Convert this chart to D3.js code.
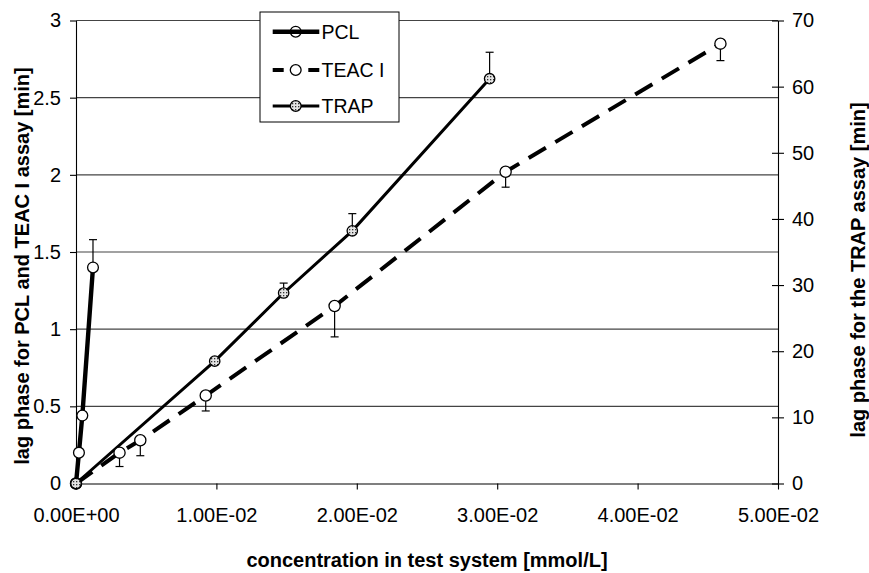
<!DOCTYPE html>
<html>
<head>
<meta charset="utf-8">
<script src="https://cdn.jsdelivr.net/npm/d3@7/dist/d3.min.js"></script>
<style>
	body { margin: 0; background: #fff; }
	svg text { font-family: "Liberation Sans", Arial, sans-serif; }
</style>
</head>
<body>
<div id="chart"></div>
<script>

// Data
//---------

//-- PCL (left axis)
var pclX = [0, 0.00021, 0.00045, 0.00121];
var pclY = [0, 0.20, 0.44, 1.40];
var pclErrUp = [0, 0, 0, 0.18];

//-- TEAC I (left axis)
var teacX = [0, 0.0031, 0.00458, 0.00924, 0.01842, 0.0306, 0.0459];
var teacY = [0, 0.20, 0.28, 0.57, 1.15, 2.02, 2.85];
var teacErrDown = [0, 0.09, 0.10, 0.10, 0.20, 0.10, 0.11];

//-- TRAP (right axis)
var trapX = [0, 0.00988, 0.01479, 0.01968, 0.02946];
var trapY = [0, 18.5, 28.8, 38.2, 61.2];
var trapErrUp = [0, 0, 1.5, 2.6, 4.0];

//-- Ticks / labels
var xTicks = [0, 0.01, 0.02, 0.03, 0.04, 0.05];
var leftTicks = [0, 0.5, 1, 1.5, 2, 2.5, 3];
var rightTicks = [0, 10, 20, 30, 40, 50, 60, 70];
var legendNames = ["PCL", "TEAC I", "TRAP"];

var xTitle = "concentration in test system [mmol/L]";
var leftTitle = "lag phase for PCL and TEAC I assay [min]";
var rightTitle = "lag phase for the TRAP assay [min]";

// Setup
//---------
var width = 869, height = 573;
var plotLeft = 76, plotRight = 778, plotTop = 20.5, plotBottom = 483.5;

var svg = d3.select("#chart").append("svg")
	.attr("width", width)
	.attr("height", height);

var defs = svg.append("defs");
var pat = defs.append("pattern")
	.attr("id", "speckle")
	.attr("patternUnits", "userSpaceOnUse")
	.attr("width", 3)
	.attr("height", 3);
pat.append("rect").attr("width", 3).attr("height", 3).attr("fill", "#e4e4e4");
pat.append("rect").attr("x", 1).attr("y", 1).attr("width", 1.3).attr("height", 1.3).attr("fill", "#333");

var x = d3.scaleLinear().domain([0, 0.05]).range([plotLeft, plotRight]);
var yL = d3.scaleLinear().domain([0, 3]).range([plotBottom, plotTop]);
var yR = d3.scaleLinear().domain([0, 70]).range([plotBottom, plotTop]);

function sciFormat(d) {
	var s = d.toExponential(2).toUpperCase();   // 1.00E-2
	return s.replace(/E([+-])(\d)$/, "E$10$2");
}

// Grid
//---------
svg.append("g").selectAll("line")
	.data(leftTicks.filter(function(d) { return d > 0; }))
	.join("line")
	.attr("x1", plotLeft).attr("x2", plotRight)
	.attr("y1", function(d) { return yL(d); })
	.attr("y2", function(d) { return yL(d); })
	.attr("stroke", "#444")
	.attr("stroke-width", 1.1);

// Axes
//---------
var axisFont = 20;

//-- Bottom
var gx = svg.append("g")
	.attr("transform", "translate(0," + plotBottom + ")")
	.call(d3.axisBottom(x).tickValues(xTicks).tickFormat(sciFormat)
		.tickSize(6).tickSizeOuter(0).tickPadding(18));

//-- Left
var gl = svg.append("g")
	.attr("transform", "translate(" + plotLeft + ",0)")
	.call(d3.axisLeft(yL).tickValues(leftTicks).tickFormat(function(d) { return String(d); })
		.tickSize(6).tickSizeOuter(0).tickPadding(9));

//-- Right (ticks cross the line)
var gr = svg.append("g")
	.attr("transform", "translate(" + plotRight + ",0)")
	.call(d3.axisRight(yR).tickValues(rightTicks)
		.tickSize(6).tickSizeOuter(0).tickPadding(8));
gr.selectAll(".tick line").attr("x1", -6);

[gx, gl, gr].forEach(function(g) {
	g.selectAll("text")
		.attr("font-family", "Liberation Sans, Arial, sans-serif")
		.attr("font-size", axisFont)
		.attr("fill", "#000");
	g.selectAll("line, path").attr("stroke", "#000").attr("stroke-width", 1.1);
});

//-- Titles
svg.append("text")
	.attr("x", (plotLeft + plotRight) / 2)
	.attr("y", 567)
	.attr("text-anchor", "middle")
	.attr("font-size", 20)
	.attr("font-weight", "bold")
	.text(xTitle);

svg.append("text")
	.attr("transform", "translate(29," + ((plotTop + plotBottom) / 2 + 14) + ") rotate(-90)")
	.attr("text-anchor", "middle")
	.attr("font-size", 20)
	.attr("font-weight", "bold")
	.text(leftTitle);

svg.append("text")
	.attr("transform", "translate(865," + ((plotTop + plotBottom) / 2 + 18) + ") rotate(-90)")
	.attr("text-anchor", "middle")
	.attr("font-size", 20)
	.attr("font-weight", "bold")
	.text(rightTitle);

// Series
//---------
function zipPts(xs, ys) {
	return xs.map(function(v, i) { return [v, ys[i]]; });
}

var pclPts = zipPts(pclX, pclY);
var teacPts = zipPts(teacX, teacY);
var trapPts = zipPts(trapX, trapY);

var lineL = d3.line().x(function(d) { return x(d[0]); }).y(function(d) { return yL(d[1]); });
var lineR = d3.line().x(function(d) { return x(d[0]); }).y(function(d) { return yR(d[1]); });

//-- Lines
svg.append("path").datum(teacPts)
	.attr("d", lineL)
	.attr("fill", "none")
	.attr("stroke", "#000")
	.attr("stroke-width", 4)
	.attr("stroke-dasharray", "20,11");

svg.append("path").datum(trapPts)
	.attr("d", lineR)
	.attr("fill", "none")
	.attr("stroke", "#000")
	.attr("stroke-width", 3);

svg.append("path").datum(pclPts)
	.attr("d", lineL)
	.attr("fill", "none")
	.attr("stroke", "#000")
	.attr("stroke-width", 4.4);

//-- Error bars
function errBars(pts, errs, ys, dir) {
	var g = svg.append("g").attr("stroke", "#000").attr("stroke-width", 1.2);
	pts.forEach(function(p, i) {
		if (!errs[i]) return;
		var y1 = ys(p[1]);
		var y2 = ys(p[1] + dir * errs[i]);
		g.append("line").attr("x1", x(p[0])).attr("x2", x(p[0])).attr("y1", y1).attr("y2", y2);
		g.append("line").attr("x1", x(p[0]) - 4).attr("x2", x(p[0]) + 4).attr("y1", y2).attr("y2", y2);
	});
}
errBars(pclPts, pclErrUp, yL, 1);
errBars(teacPts, teacErrDown, yL, -1);
errBars(trapPts, trapErrUp, yR, 1);

//-- Markers
function markers(pts, ys, r, fill) {
	svg.append("g").selectAll("circle")
		.data(pts)
		.join("circle")
		.attr("cx", function(d) { return x(d[0]); })
		.attr("cy", function(d) { return ys(d[1]); })
		.attr("r", r)
		.attr("fill", fill)
		.attr("stroke", "#000")
		.attr("stroke-width", 1.3);
}
markers(teacPts, yL, 5.6, "#fff");
markers(pclPts, yL, 5.4, "#fff");
markers(trapPts, yR, 5.2, "url(#speckle)");

// Legend
//---------
var lg = svg.append("g");
lg.append("rect")
	.attr("x", 260).attr("y", 12)
	.attr("width", 139).attr("height", 110)
	.attr("fill", "#fff")
	.attr("stroke", "#000")
	.attr("stroke-width", 1);

var legendRows = [
	{ y: 31.7, width: 4.4, dash: null, fill: "none" },
	{ y: 70, width: 4, dash: "11,24.6", fill: "#fff" },
	{ y: 106, width: 3, dash: null, fill: "url(#speckle)" }
];

legendRows.forEach(function(row, i) {
	lg.append("line")
		.attr("x1", 272.7).attr("x2", 319.3)
		.attr("y1", row.y).attr("y2", row.y)
		.attr("stroke", "#000")
		.attr("stroke-width", row.width)
		.attr("stroke-dasharray", row.dash);
	lg.append("circle")
		.attr("cx", 295.7).attr("cy", row.y)
		.attr("r", 5.4)
		.attr("fill", row.fill)
		.attr("stroke", "#000")
		.attr("stroke-width", 1.3);
	lg.append("text")
		.attr("x", 321.5)
		.attr("y", row.y + 7)
		.attr("font-size", 19.5)
		.text(legendNames[i]);
});

</script>
</body>
</html>
